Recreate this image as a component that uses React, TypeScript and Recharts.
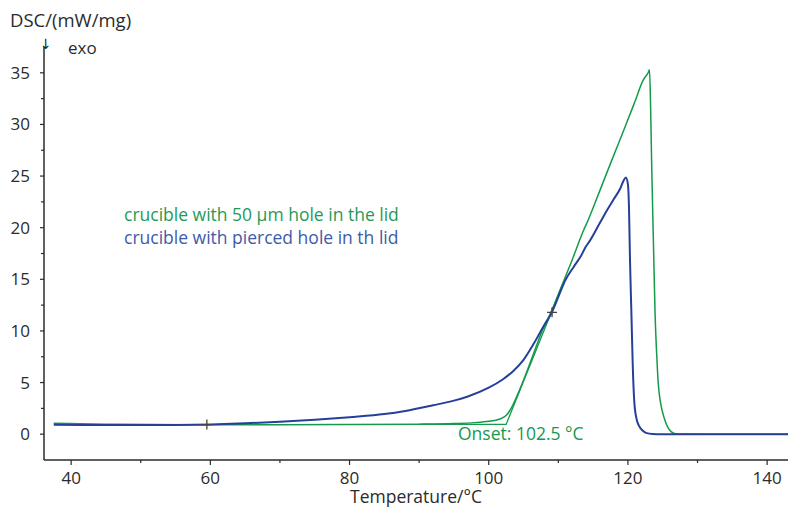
import { ComposedChart, Line, Scatter, XAxis, YAxis } from "recharts";

// crucible with 50 µm hole in the lid
const greenT = [37.5, 45, 52, 60, 70, 80, 90, 95, 98, 100, 101.5, 102.5, 103.3, 104.5, 105.5, 106.5, 107.5, 109, 110.5, 112, 113.6, 114.2, 115.8, 117.6, 119.5, 121, 122.2, 122.6, 122.9, 123.1, 123.25, 123.4, 123.65, 123.9, 124.15, 124.35, 124.7, 125.2, 125.7, 126.2, 126.7, 127.5, 130, 143];
const greenDSC = [1.05, 0.97, 0.93, 0.92, 0.92, 0.93, 0.97, 1.03, 1.12, 1.25, 1.45, 1.8, 2.6, 4.4, 6.1, 7.9, 9.7, 11.9, 14.4, 16.9, 19.7, 20.6, 23.3, 26.4, 29.6, 32.2, 34.3, 34.7, 35.0, 35.3, 32, 26.5, 19, 11.7, 7.5, 5.0, 3.0, 1.6, 0.7, 0.25, 0.07, 0.01, 0, 0];

// crucible with pierced hole in th lid
const blueT = [37.5, 42, 50, 55, 60, 65, 70, 75, 80, 85, 88, 92, 95, 97, 100, 102, 103.5, 105, 106.5, 108, 109, 110, 111, 112.2, 113.2, 113.9, 114.6, 116, 117, 118, 118.9, 119.4, 119.7, 120.0, 120.15, 120.3, 120.5, 120.7, 120.9, 121.2, 121.6, 122.1, 122.7, 123.5, 125, 143];
const blueDSC = [0.92, 0.9, 0.88, 0.9, 0.95, 1.05, 1.2, 1.4, 1.65, 1.95, 2.25, 2.8, 3.25, 3.65, 4.5, 5.3, 6.1, 7.2, 8.8, 10.6, 11.7, 13.3, 14.9, 16.2, 17.2, 18.1, 18.8, 20.5, 21.7, 22.8, 23.8, 24.6, 24.85, 24.2, 22, 16.8, 11.7, 6.5, 3.3, 1.6, 0.8, 0.35, 0.1, 0.02, 0, 0];

// onset construction (baseline + tangent)
const onsetT = [90, 102.5, 110.5];
const onsetDSC = [0.95, 0.95, 14.3];

// "+" markers
const markT = [59.5, 109.1];
const markDSC = [0.93, 11.8];

const xTicks = [40, 50, 60, 70, 80, 90, 100, 110, 120, 130, 140];
const yTicks = [0, 2.5, 5, 7.5, 10, 12.5, 15, 17.5, 20, 22.5, 25, 27.5, 30, 32.5, 35];

const zip = (t: number[], v: number[]) => t.map((x, i) => ({ t: x, v: v[i] }));
const greenData = zip(greenT, greenDSC);
const blueData = zip(blueT, blueDSC);
const onsetData = zip(onsetT, onsetDSC);
const markData = zip(markT, markDSC);

const W = 789;
const H = 507;
const TOP = 47;
const XH = 47;
const YW = 44;
const AXIS_Y = H - XH;

const GREEN = "#159a4b";
const BLUE = "#26409a";
const TXT = "#2b2b2b";
const FONT = "'Open Sans', 'Noto Sans', sans-serif";

const XTick = (props: any) => {
    const { x, payload } = props;
    const major = payload.value % 20 === 0;
    return (
        <g>
            <line x1={x} x2={x} y1={AXIS_Y} y2={AXIS_Y + (major ? 5 : 3)} stroke={TXT} strokeWidth={1.2} />
            {major && (
                <text x={x} y={AXIS_Y + 11} dy="0.75em" textAnchor="middle" fontSize={17} fill={TXT} fontFamily={FONT}>
                    {payload.value}
                </text>
            )}
        </g>
    );
};

const YTick = (props: any) => {
    const { y, payload } = props;
    const major = payload.value % 5 === 0;
    return (
        <g>
            <line x1={YW - (major ? 4 : 3)} x2={YW} y1={y} y2={y} stroke={TXT} strokeWidth={1.2} />
            {major && (
                <text x={30} y={y} dy="0.35em" textAnchor="end" fontSize={17} fill={TXT} fontFamily={FONT}>
                    {payload.value}
                </text>
            )}
        </g>
    );
};

const Plus = (props: any) => {
    const { cx, cy } = props;
    return <path d={`M${cx - 5},${cy}H${cx + 5}M${cx},${cy - 5}V${cy + 5}`} stroke="#444" strokeWidth={1.3} />;
};

const abs = (left: number, top: number, color: string, size = 17.5, family = FONT): React.CSSProperties => ({
    position: "absolute",
    left,
    top,
    color,
    fontSize: size,
    fontFamily: family,
    lineHeight: "20px",
    whiteSpace: "nowrap",
});

export default function App() {
    return (
        <div style={{ position: "absolute", left: 0, top: 0, width: W, height: H, background: "#fff" }}>
            <ComposedChart width={W} height={H} margin={{ top: TOP, right: 1, bottom: 0, left: 0 }}>
                <XAxis
                    type="number"
                    dataKey="t"
                    domain={[36.1, 143]}
                    ticks={xTicks}
                    allowDataOverflow
                    height={XH}
                    tickLine={false}
                    tick={<XTick />}
                    axisLine={{ stroke: TXT, strokeWidth: 1.5 }}
                    label={{ value: "Temperature/°C", position: "insideBottom", offset: 4, fontSize: 17.5, fill: TXT, fontFamily: FONT }}
                />
                <YAxis
                    type="number"
                    dataKey="v"
                    domain={[-2.5, 37.5]}
                    ticks={yTicks}
                    allowDataOverflow
                    width={YW}
                    tickLine={false}
                    tick={<YTick />}
                    axisLine={{ stroke: TXT, strokeWidth: 1.5 }}
                />
                <Line data={onsetData} dataKey="v" type="linear" stroke={GREEN} strokeWidth={1.3} dot={false} isAnimationActive={false} />
                <Line data={greenData} dataKey="v" type="monotone" stroke={GREEN} strokeWidth={1.5} dot={false} isAnimationActive={false} />
                <Line data={blueData} dataKey="v" type="monotone" stroke={BLUE} strokeWidth={2} dot={false} isAnimationActive={false} />
                <Scatter data={markData} dataKey="v" shape={<Plus />} isAnimationActive={false} />
            </ComposedChart>
            <div style={abs(10, 10, TXT, 18.5)}>DSC/(mW/mg)</div>
            <div style={abs(40, 34, "#222", 14, "'DejaVu Sans', sans-serif")}>↓</div>
            <div style={abs(68, 38, TXT, 17)}>exo</div>
            <div style={abs(124, 204, "#1f9a56")}>crucible with 50 µm hole in the lid</div>
            <div style={abs(124, 227, "#3e5aa8")}>crucible with pierced hole in th lid</div>
            <div style={abs(458, 423, GREEN)}>Onset: 102.5 °C</div>
        </div>
    );
}
